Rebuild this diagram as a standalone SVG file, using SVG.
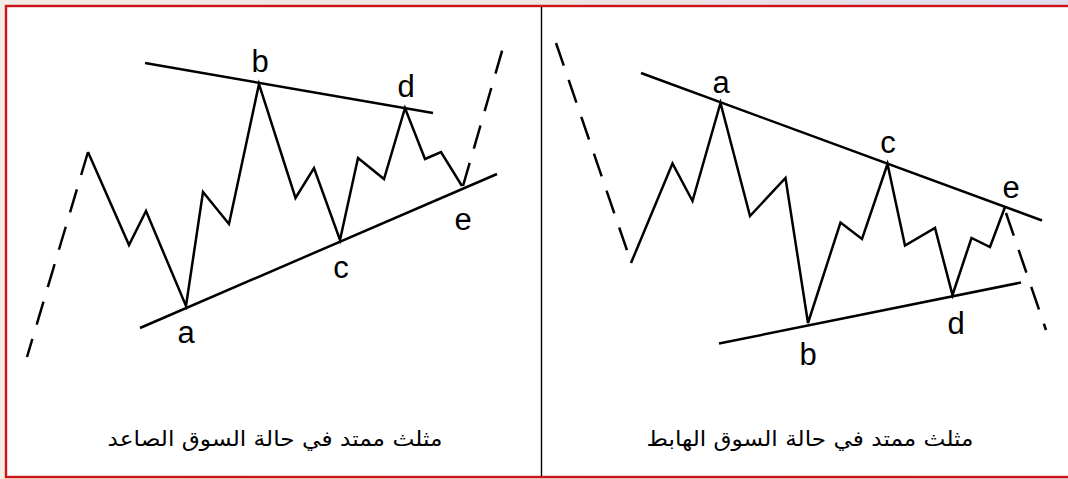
<svg xmlns="http://www.w3.org/2000/svg" width="1068" height="479" viewBox="0 0 1068 479">
<defs>
<linearGradient id="bg" x1="0" y1="0" x2="1" y2="0">
<stop offset="0" stop-color="#f1ece4"/>
<stop offset="0.5" stop-color="#ede6e2"/>
<stop offset="1" stop-color="#e2dcef"/>
</linearGradient>
<style>
.w{fill:none;stroke:#000;stroke-width:2.5;stroke-linejoin:miter;stroke-linecap:butt}
.t{fill:none;stroke:#000;stroke-width:2.5}
.d{fill:none;stroke:#000;stroke-width:2.5;stroke-dasharray:24 15}
.l{font-family:"Liberation Sans",Arial,sans-serif;font-size:31px;fill:#000;text-anchor:middle}
.cap{font-family:"DejaVu Sans","Noto Sans",sans-serif;font-size:21px;fill:#000;text-anchor:middle}
</style>
</defs>
<rect x="0" y="0" width="1068" height="479" fill="url(#bg)"/>
<rect x="6" y="6" width="1070" height="471" fill="#fff" stroke="#cc1418" stroke-width="2.4"/>
<line x1="541.5" y1="7" x2="541.5" y2="476" stroke="#000" stroke-width="1.4"/>

<g id="left-panel">
<g id="left-connectors">
<polyline class="d" points="88,152 27,357"/>
<polyline class="w" points="88,152 129,245 146,211 186,306 203,192 229,224 259,84 295.5,198 314,168 340,240 358,158 384,179 405,108 425,159 441,152 462,186"/>
<line class="t" x1="145" y1="63" x2="433" y2="113"/>
<line class="t" x1="140" y1="328" x2="497" y2="174"/>
<polyline class="d" points="463,186 504,44"/>
</g>
<g id="left-labels">
<text class="l" x="260" y="72">b</text>
<text class="l" x="406" y="97">d</text>
<text class="l" x="463" y="230">e</text>
<text class="l" x="341" y="278">c</text>
<text class="l" x="186" y="343">a</text>
</g>
<text id="left-caption" class="cap" x="275" y="446" direction="rtl" textLength="335" lengthAdjust="spacingAndGlyphs">مثلث ممتد في حالة السوق الصاعد</text>
</g>

<g id="right-panel">
<g id="right-connectors">
<polyline class="d" points="556,43 631,262"/>
<polyline class="w" points="631,263 672.5,163.5 692.5,201 720.5,103 750,216 785.5,178 808,323 840.5,222.5 862,239 887.5,164 905,245.5 935,228 952.5,295 971.5,238 990,247 1005,207"/>
<line class="t" x1="641" y1="73" x2="1042" y2="220.5"/>
<line class="t" x1="719" y1="343.5" x2="1021" y2="282.5"/>
<polyline class="d" points="1006,213 1046,330"/>
</g>
<g id="right-labels">
<text class="l" x="721" y="93">a</text>
<text class="l" x="888" y="153">c</text>
<text class="l" x="1011" y="198">e</text>
<text class="l" x="808" y="365">b</text>
<text class="l" x="956" y="334">d</text>
</g>
<text id="right-caption" class="cap" x="810" y="446" direction="rtl" textLength="327" lengthAdjust="spacingAndGlyphs">مثلث ممتد في حالة السوق الهابط</text>
</g>
</svg>
